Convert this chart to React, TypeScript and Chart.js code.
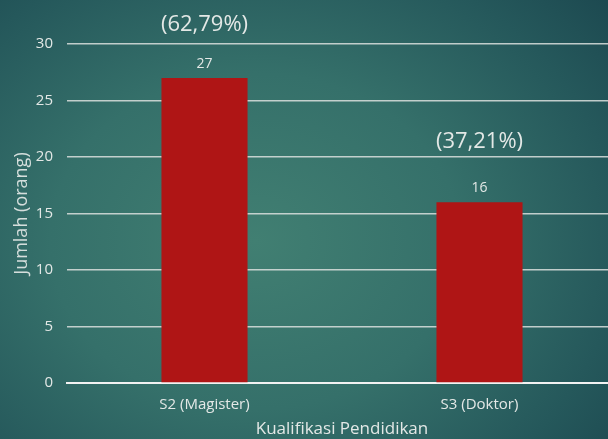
import React, { useEffect, useRef } from "react";
import { Chart, registerables } from "chart.js";

Chart.register(...registerables);

const categories = ["S2 (Magister)", "S3 (Doktor)"];
const values = [27, 16];
const percentLabels = ["(62,79%)", "(37,21%)"];
const yTicks = [0, 5, 10, 15, 20, 25, 30];

const FONT = "'Open Sans', 'DejaVu Sans', sans-serif";
const TEXT = "#e3e8e6";
// vertical gap (px) between each bar's top and its percentage caption
const PCT_GAP = [53, 60];

const labelPlugin = {
  id: "labels",
  afterDatasetsDraw(chart: any) {
    const ctx = chart.ctx;
    const meta = chart.getDatasetMeta(0);
    ctx.save();
    ctx.textAlign = "center";
    ctx.textBaseline = "middle";
    meta.data.forEach((bar: any, i: number) => {
      ctx.fillStyle = TEXT;
      ctx.font = `14px ${FONT}`;
      ctx.fillText(String(values[i]), bar.x, bar.y - 14);
      ctx.font = `22px ${FONT}`;
      ctx.fillText(percentLabels[i], bar.x, bar.y - PCT_GAP[i]);
    });
    ctx.restore();
  },
};

export default function App() {
  const ref = useRef<HTMLCanvasElement>(null);
  useEffect(() => {
    if (!ref.current) return;
    const chart = new Chart(ref.current, {
      type: "bar",
      data: {
        labels: categories,
        datasets: [
          {
            data: values,
            backgroundColor: "#af1515",
            categoryPercentage: 1,
            barPercentage: 0.313,
          },
        ],
      },
      options: {
        animation: false,
        responsive: false,
        layout: { padding: { top: 44, right: 8, left: 11, bottom: 0 } },
        plugins: { legend: { display: false }, tooltip: { enabled: false } },
        scales: {
          x: {
            grid: { display: false },
            border: { display: true, color: "#f2f2f2", width: 2 },
            ticks: { color: TEXT, font: { family: FONT, size: 15 }, padding: 5 },
            title: {
              display: true,
              text: "Kualifikasi Pendidikan",
              color: TEXT,
              font: { family: FONT, size: 17 },
              padding: { top: 0, bottom: 0 },
            },
            afterFit: (s: any) => {
              s.height = 56;
            },
          },
          y: {
            min: 0,
            max: 30,
            afterBuildTicks: (s: any) => {
              s.ticks = yTicks.map((v) => ({ value: v }));
            },
            grid: {
              color: "rgba(220,225,222,0.85)",
              lineWidth: 1.5,
              drawTicks: false,
            },
            border: { display: false },
            ticks: {
              color: TEXT,
              font: { family: FONT, size: 15 },
              padding: 14,
            },
            title: {
              display: true,
              text: "Jumlah (orang)",
              color: "rgba(227,232,230,0.92)",
              font: { family: FONT, size: 18 },
              padding: { top: 0, bottom: 0 },
            },
            afterFit: (s: any) => {
              s.width = 56;
            },
          },
        },
      },
      plugins: [labelPlugin],
    });
    return () => chart.destroy();
  }, []);

  return (
    <div
      style={{
        position: "fixed",
        left: 0,
        top: 0,
        width: 608,
        height: 439,
        overflow: "hidden",
        background:
          "radial-gradient(ellipse 75% 85% at 42% 55%, #417f72 0%, #35706a 45%, #25585b 80%, #1d4a51 100%)",
      }}
    >
      <canvas ref={ref} width={625} height={439} style={{ display: "block" }} />
    </div>
  );
}
